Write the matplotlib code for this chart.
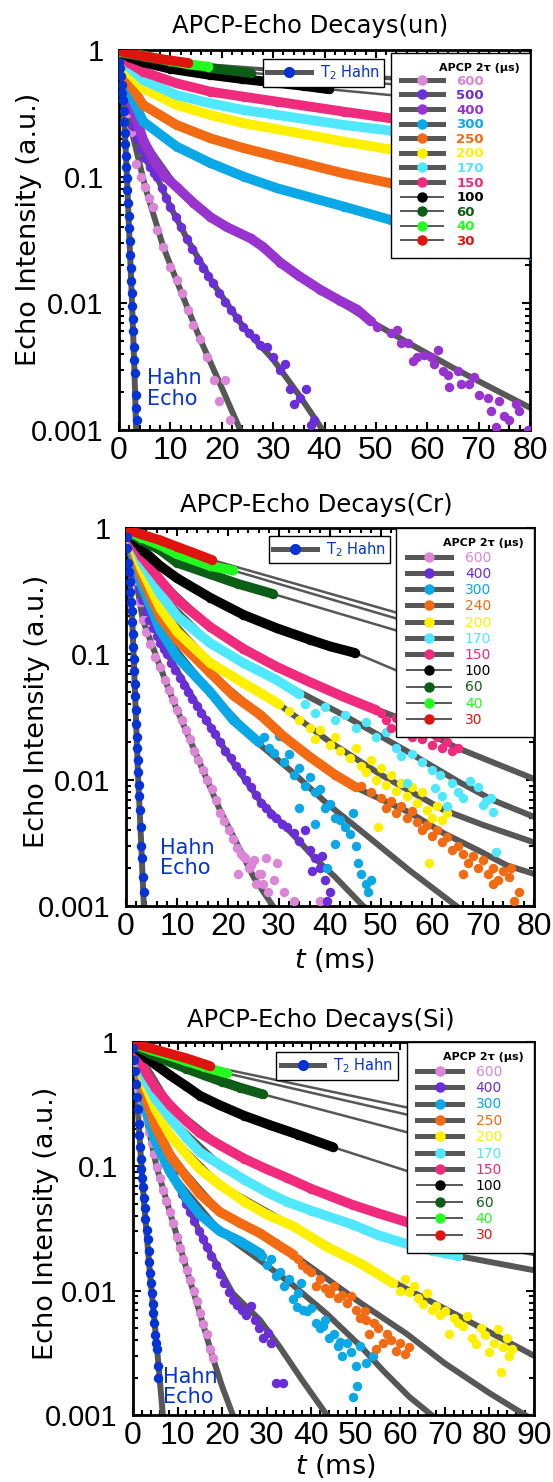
import matplotlib.pyplot as plt
from matplotlib.lines import Line2D
from matplotlib.ticker import LogLocator, MultipleLocator, NullFormatter

plt.rcParams["font.family"] = "DejaVu Sans"
plt.rcParams["mathtext.fontset"] = "dejavusans"

GREY = "#575757"
HAHN = "#0533D6"

labels_un = ["600", "500", "400", "300", "250", "200", "170", "150", "100", "60", "40", "30"]
colors_un = ["#DB86D6", "#6A2ED8", "#9933D0", "#0AA8E6", "#F26A12", "#FFF000",
             "#50E8FF", "#F02A7C", "#000000", "#0C5E16", "#22FF1E", "#E0140E"]
labels_cr = ["600", "400", "300", "240", "200", "170", "150", "100", "60", "40", "30"]
labels_si = ["600", "400", "300", "250", "200", "170", "150", "100", "60", "40", "30"]
colors_cs = ["#DB86D6", "#6A2ED8", "#0AA8E6", "#F26A12", "#FFF000",
             "#50E8FF", "#F02A7C", "#000000", "#0C5E16", "#22FF1E", "#E0140E"]

# ---------------- un ----------------
un_hahn = ([0.05, 0.2, 0.35, 0.5, 0.65, 0.8, 0.95, 1.05, 1.15, 1.25, 1.35, 1.45, 1.55, 1.65, 1.75, 1.85,
            1.95, 2.05, 2.15, 2.25, 2.35, 2.45, 2.55, 2.65, 2.75, 2.9, 3.0, 3.1, 3.25, 3.4, 3.5],
           [0.80, 0.72, 0.62, 0.53, 0.46, 0.40, 0.33, 0.27, 0.22, 0.18, 0.145, 0.12, 0.098, 0.079, 0.062, 0.049,
            0.039, 0.031, 0.024, 0.019, 0.015, 0.012, 0.0095, 0.0075, 0.0060, 0.0045, 0.0036, 0.0028, 0.0019,
            0.0015, 0.0012])
un_hahn_fit = ([0, 0.5, 1.0, 1.5, 2.0, 2.5, 3.0, 3.3, 3.6],
               [1.0, 0.53, 0.30, 0.11, 0.035, 0.011, 0.0030, 0.0011, 0.0005])
un_600 = ([0.5, 1.2, 1.8, 2.5, 3.4, 4.2, 5.1, 5.9, 6.7, 7.4, 8.6, 10, 11.3, 12.2, 13.5, 14.5, 15.8, 17.1,
           18.5, 19.4, 20.7, 21.7],
          [0.75, 0.45, 0.32, 0.227, 0.127, 0.10, 0.083, 0.068, 0.058, 0.038, 0.028, 0.0195, 0.0153, 0.012,
           0.0089, 0.0068, 0.0052, 0.0038, 0.0025, 0.0017, 0.0025, 0.0012])
un_600_fit = ([0, 1, 2.5, 5.1, 8.6, 12.2, 15.8, 19.7, 23.6, 25],
              [1.0, 0.50, 0.227, 0.083, 0.028, 0.012, 0.0052, 0.0023, 0.001, 0.0007])
un_500 = ([0.5, 1, 1.5, 2, 2.7, 3.5, 4.3, 5.1, 6, 6.8, 7.4, 8.3, 9.2, 10, 11, 12, 13.3, 14.3, 15.3, 16.3,
           17.3, 18.3, 19.5, 20.6, 21.8, 23, 24.2, 25.3, 26.5, 27.5, 28.9, 30, 31.4, 32.4, 33.2, 34, 35.2,
           36.4, 37.3, 37.9],
          [0.70, 0.55, 0.44, 0.34, 0.25, 0.20, 0.165, 0.14, 0.12, 0.107, 0.099, 0.082, 0.068, 0.058, 0.048,
           0.040, 0.032, 0.027, 0.022, 0.019, 0.0165, 0.0144, 0.012, 0.0103, 0.0089, 0.0076, 0.0065, 0.0058,
           0.0053, 0.0047, 0.0045, 0.0038, 0.0030, 0.0033, 0.0021, 0.0016, 0.0018, 0.0021, 0.0011, 0.0012])
un_500_fit = ([0, 1, 2.7, 5, 7.4, 10, 13.3, 18.3, 24.2, 30, 35, 40, 42],
              [1.0, 0.55, 0.25, 0.14, 0.099, 0.058, 0.032, 0.0144, 0.0065, 0.0036, 0.0019, 0.00095, 0.0007])
un_400 = ([0, 1, 2, 2.8, 4.7, 7, 9, 11.2, 14.5, 17.8, 21, 25.6, 28, 31.4, 35, 39.2, 43, 46.4, 49],
          [0.95, 0.62, 0.43, 0.34, 0.195, 0.13, 0.10, 0.083, 0.062, 0.048, 0.040, 0.0326, 0.028, 0.021,
           0.0165, 0.0128, 0.0105, 0.0089, 0.0072])
un_400_fit = ([0, 2.8, 4.7, 11.2, 17.8, 25.6, 31.4, 39.2, 49, 57, 65, 73, 80],
              [1.0, 0.34, 0.195, 0.083, 0.048, 0.0326, 0.021, 0.0128, 0.0072, 0.0047, 0.0031, 0.0021, 0.0015])
un_400_sc = ([50.3, 52.9, 54.2, 54.8, 56.2, 57.2, 58.1, 59.3, 60.7, 61.3, 62, 63, 64, 64.2, 66, 66.5, 68.1,
              69.1, 70.1, 71.8, 72.4, 73.4, 74, 75, 76, 77.3, 77.9, 79.6],
             [0.0065, 0.0058, 0.0062, 0.0049, 0.0049, 0.0035, 0.0038, 0.0039, 0.0038, 0.0033, 0.0043, 0.0029,
              0.0027, 0.0022, 0.0029, 0.0023, 0.0023, 0.0026, 0.0019, 0.0018, 0.0014, 0.00105, 0.0017, 0.0013,
              0.0012, 0.0016, 0.0014, 0.0010])
un_t = [0, 1, 2, 4.7, 11.2, 17.8, 24.3, 30.8, 43.8, 52.9, 65, 80]
un_300 = (un_t, [0.92, 0.64, 0.47, 0.272, 0.173, 0.128, 0.100, 0.081, 0.058, 0.0455, 0.034, 0.024])
un_250 = (un_t, [0.93, 0.70, 0.55, 0.368, 0.256, 0.201, 0.168, 0.144, 0.106, 0.0887, 0.070, 0.053])
un_200 = (un_t, [0.94, 0.77, 0.66, 0.499, 0.368, 0.307, 0.264, 0.237, 0.189, 0.164, 0.140, 0.117])
un_170 = (un_t, [0.95, 0.82, 0.73, 0.58, 0.441, 0.379, 0.336, 0.307, 0.256, 0.231, 0.200, 0.170])
un_150 = (un_t, [0.96, 0.86, 0.79, 0.674, 0.546, 0.469, 0.428, 0.391, 0.326, 0.289, 0.250, 0.210])
un_100 = ([0, 2, 4.7, 10, 17.8, 24, 30.8, 36, 40.8],
          [0.97, 0.88, 0.80, 0.71, 0.635, 0.59, 0.55, 0.52, 0.49])
un_100_fit = ([0, 10, 20, 30.8, 40.8, 53, 80], [0.97, 0.71, 0.62, 0.55, 0.49, 0.44, 0.37])
un_60 = ([0, 5, 10, 17.8, 25.6], [0.96, 0.88, 0.81, 0.72, 0.66])
un_60_fit = ([0, 10, 17.8, 25.6, 50, 80], [0.96, 0.81, 0.72, 0.66, 0.55, 0.44])
un_40 = ([0, 5, 10, 13.5, 17.4], [0.97, 0.90, 0.82, 0.77, 0.74])
un_40_fit = ([0, 10, 17.4, 27, 50, 80], [0.97, 0.82, 0.74, 0.70, 0.60, 0.49])
un_30 = ([0, 4, 8, 13.5], [0.98, 0.91, 0.85, 0.79])
un_30_fit = ([0, 8, 13.5, 27, 50, 80], [0.98, 0.85, 0.79, 0.72, 0.62, 0.52])

# ---------------- Cr ----------------
cr_hahn = ([0.1, 0.25, 0.4, 0.55, 0.7, 0.85, 1.0, 1.1, 1.2, 1.3, 1.4, 1.5, 1.6, 1.7, 1.8, 1.9, 2.0, 2.1, 2.2,
            2.3, 2.4, 2.5, 2.6, 2.7, 2.85, 3.0, 3.15, 3.3, 3.45],
           [0.85, 0.70, 0.53, 0.45, 0.37, 0.31, 0.26, 0.22, 0.18, 0.145, 0.114, 0.092, 0.073, 0.058, 0.046,
            0.036, 0.028, 0.022, 0.018, 0.0145, 0.0115, 0.0092, 0.0074, 0.0058, 0.0042, 0.0030, 0.0024,
            0.0017, 0.0013])
cr_hahn_fit = ([0, 0.4, 1.2, 1.8, 2.4, 3.0, 3.5, 3.8], [1.0, 0.53, 0.20, 0.046, 0.0100, 0.0030, 0.001, 0.0005])
cr_600 = ([0.3, 0.8, 1.4, 2, 2.7, 3.3, 4, 4.8, 5.7, 6.7, 7.7, 8.5, 9.2, 10, 10.9, 11.7, 12.5, 13.4, 14.2, 15,
           15.9, 16.8, 17.6, 18.4, 19.3, 20.2, 21, 21.8, 22.6, 23.4, 24.2, 25, 26, 26.9, 27.8],
          [0.85, 0.70, 0.53, 0.38, 0.26, 0.186, 0.15, 0.12, 0.095, 0.079, 0.062, 0.052, 0.043, 0.036, 0.030,
           0.025, 0.021, 0.017, 0.0143, 0.012, 0.010, 0.0085, 0.0070, 0.0055, 0.0047, 0.0040, 0.0034, 0.0029,
           0.0026, 0.0024, 0.0020, 0.0023, 0.0018, 0.0015, 0.0013])
cr_600_sc = ([22, 23, 24.5, 25.5, 26.5, 27.5, 29, 29.6, 30.9, 33, 38],
             [0.0018, 0.0025, 0.0021, 0.0015, 0.0018, 0.0024, 0.0016, 0.0022, 0.0013, 0.0011, 0.0011])
cr_600_fit = ([0, 1.4, 3.3, 6.7, 9.2, 12.5, 15.9, 18.4, 21.8, 25, 28.8, 30],
              [1.0, 0.53, 0.186, 0.079, 0.043, 0.021, 0.010, 0.0058, 0.0031, 0.0017, 0.001, 0.0008])
cr_400 = ([0.5, 1, 1.5, 2, 2.6, 3.2, 3.9, 4.6, 5.3, 6, 6.7, 7.4, 8.1, 8.9, 9.7, 10.5, 11.3, 12.1, 13, 13.9,
           14.8, 15.7, 16.6, 17.5, 18.5, 19.5, 20.5, 21.5, 22.5, 23.5, 24.5, 25.5, 26.5, 27.5, 28.5, 29.5,
           30.5, 31.5],
          [0.75, 0.62, 0.50, 0.41, 0.33, 0.27, 0.22, 0.185, 0.16, 0.14, 0.123, 0.11, 0.10, 0.085, 0.074, 0.064,
           0.057, 0.050, 0.044, 0.039, 0.034, 0.030, 0.026, 0.023, 0.020, 0.017, 0.0150, 0.0130, 0.0115,
           0.0100, 0.0088, 0.0076, 0.0066, 0.0060, 0.0054, 0.0050, 0.0045, 0.0042])
cr_400_sc = ([33, 34, 35, 36, 36.5, 37, 38, 38.5, 39, 39.5, 40],
             [0.0038, 0.0033, 0.0040, 0.0028, 0.0019, 0.0024, 0.0020, 0.0025, 0.0016, 0.0011, 0.0013])
cr_400_fit = ([0, 3, 8, 14.5, 21, 26.3, 33, 37, 41, 46.5, 50],
              [1.0, 0.30, 0.102, 0.036, 0.0137, 0.0068, 0.0036, 0.0024, 0.0017, 0.001, 0.0008])
cr_300 = ([0, 1, 3, 6.7, 10, 16.5, 21, 26], [0.93, 0.70, 0.36, 0.155, 0.095, 0.050, 0.030, 0.020])
cr_300_sc = ([27, 28, 29, 30, 31, 32, 33, 34, 34, 35, 36, 37, 37, 38, 39, 39.5, 40, 41, 41, 42, 43, 44, 44.5,
              45, 45.5, 46, 47, 47.5, 48],
             [0.022, 0.018, 0.0165, 0.0225, 0.014, 0.016, 0.011, 0.0125, 0.0060, 0.0090, 0.0105, 0.0080, 0.0045,
              0.0085, 0.0060, 0.0020, 0.0065, 0.0050, 0.0031, 0.0048, 0.0042, 0.0037, 0.0055, 0.0030, 0.0022,
              0.0018, 0.0015, 0.0013, 0.0016])
cr_300_fit = ([0, 3, 6.7, 16.5, 26.3, 32.7, 39.4, 45.9, 55.7, 65.5, 70],
              [0.93, 0.36, 0.155, 0.050, 0.019, 0.0115, 0.0065, 0.0040, 0.0019, 0.00095, 0.0007])
cr_240 = ([0, 1, 3, 6.7, 10, 16.5, 21, 26.3, 31, 36, 41, 45],
          [0.94, 0.75, 0.42, 0.197, 0.13, 0.071, 0.047, 0.033, 0.022, 0.0153, 0.011, 0.0088])
cr_240_sc = ([46, 48, 50, 51, 52, 53, 54, 55, 56, 57, 58, 59, 60, 61, 62, 63, 64, 65, 66, 66, 67, 68, 69, 70,
              71, 72, 72, 73, 74, 75, 75.5, 76, 77],
             [0.0090, 0.0080, 0.0072, 0.0060, 0.0068, 0.0055, 0.0062, 0.0050, 0.0057, 0.0046, 0.0040, 0.0044,
              0.0036, 0.0040, 0.0032, 0.0035, 0.0028, 0.0030, 0.0026, 0.0018, 0.0022, 0.0025, 0.0020, 0.0023,
              0.0018, 0.0020, 0.0015, 0.0016, 0.0019, 0.0017, 0.0020, 0.0011, 0.0013])
cr_240_fit = ([0, 3, 6.7, 16.5, 26.3, 36, 45.9, 55.7, 62.2, 68.8, 74.7, 80],
              [0.94, 0.42, 0.197, 0.071, 0.033, 0.0153, 0.0084, 0.0055, 0.0038, 0.0028, 0.0021, 0.0018])
cr_200 = ([0, 1, 3, 6.7, 10, 16.5, 23, 29.6], [0.95, 0.80, 0.48, 0.232, 0.15, 0.085, 0.059, 0.041])
cr_200_sc = ([30, 32, 34, 36, 37, 38, 40, 41, 42, 44, 45, 46, 47, 48, 49, 49.5, 50, 51, 52, 53, 54, 55, 56, 57,
              58, 59, 59.5, 60, 61, 62, 63],
             [0.040, 0.035, 0.030, 0.026, 0.021, 0.025, 0.019, 0.022, 0.017, 0.015, 0.018, 0.013, 0.0115, 0.0145,
              0.010, 0.0042, 0.0125, 0.0092, 0.0110, 0.0082, 0.0095, 0.0075, 0.0088, 0.0066, 0.0080, 0.0058,
              0.0022, 0.0050, 0.0062, 0.0048, 0.0055])
cr_200_fit = ([0, 3, 6.7, 16.5, 29.6, 40, 50, 62.2, 70, 80],
              [0.95, 0.48, 0.232, 0.085, 0.041, 0.020, 0.011, 0.0058, 0.0044, 0.0032])
cr_170 = ([0, 1, 3, 6.7, 10, 16.5, 23, 29.6, 34],
          [0.95, 0.83, 0.55, 0.30, 0.20, 0.122, 0.085, 0.062, 0.048])
cr_170_sc = ([35, 37, 39, 41, 43, 45, 47, 49, 51, 53, 54, 55, 56, 58, 60, 60.5, 61.5, 62, 63, 64, 65, 66, 67.5,
              69, 70, 70.5, 71.5, 72, 72.5],
             [0.040, 0.034, 0.038, 0.030, 0.033, 0.026, 0.029, 0.022, 0.024, 0.018, 0.0155, 0.0095, 0.016,
              0.014, 0.012, 0.0086, 0.011, 0.0075, 0.0062, 0.0095, 0.0080, 0.0072, 0.0098, 0.0088, 0.0063,
              0.0068, 0.0072, 0.0056, 0.0027])
cr_170_fit = ([0, 3, 6.7, 16.5, 29.6, 42.5, 55, 65, 72, 80],
              [0.95, 0.55, 0.30, 0.122, 0.062, 0.033, 0.017, 0.0098, 0.0069, 0.0051])
cr_150 = ([0, 1, 3, 6.7, 10, 16.5, 23, 29.6, 36, 42.5, 49],
          [0.95, 0.85, 0.60, 0.387, 0.27, 0.164, 0.11, 0.079, 0.060, 0.046, 0.036])
cr_150_sc = ([50, 51, 52, 53, 54, 55, 56, 57, 58, 59, 60, 61, 62, 63, 64, 65],
             [0.034, 0.030, 0.026, 0.031, 0.025, 0.028, 0.022, 0.025, 0.021, 0.024, 0.019, 0.022, 0.018, 0.020,
              0.017, 0.018])
cr_150_fit = ([0, 3, 6.7, 16.5, 29.6, 42.5, 52.7, 64.9, 80],
              [0.95, 0.60, 0.387, 0.164, 0.079, 0.046, 0.032, 0.018, 0.0102])
cr_100 = ([0, 1, 3.4, 6.7, 10, 16.5, 23, 29.6, 36, 40, 44.9],
          [0.97, 0.88, 0.66, 0.50, 0.40, 0.28, 0.205, 0.16, 0.13, 0.115, 0.102])
cr_100_fit = ([0, 6.7, 16.5, 29.6, 44.9, 52.7, 80], [0.97, 0.50, 0.28, 0.16, 0.102, 0.075, 0.028])
cr_60 = ([0, 3, 6.7, 10, 16.5, 22, 28.8], [0.95, 0.80, 0.67, 0.53, 0.43, 0.36, 0.30])
cr_60_fit = ([0, 6.7, 16.5, 28.8, 52.7, 80], [0.95, 0.67, 0.43, 0.30, 0.155, 0.072])
cr_40 = ([0, 3, 6.7, 10, 16.5, 21], [0.96, 0.84, 0.73, 0.62, 0.50, 0.46])
cr_40_fit = ([0, 6.7, 16.5, 21, 52.7, 80], [0.96, 0.73, 0.50, 0.46, 0.193, 0.091])
cr_30 = ([0, 3, 6.7, 10, 13, 16.9], [0.98, 0.89, 0.80, 0.71, 0.64, 0.557])
cr_30_fit = ([0, 6.7, 16.9, 52.7, 80], [0.98, 0.80, 0.557, 0.215, 0.105])

# ---------------- Si ----------------
si_hahn = ([0.1, 0.3, 0.5, 0.7, 0.9, 1.1, 1.3, 1.45, 1.6, 1.75, 1.9, 2.05, 2.2, 2.4, 2.6, 2.8, 3.1, 3.3, 3.5,
            3.7, 3.8, 4.0, 4.2, 4.4, 4.5, 4.8, 5.0, 5.2, 5.4, 5.6, 5.7],
           [0.90, 0.72, 0.58, 0.46, 0.36, 0.29, 0.22, 0.18, 0.143, 0.115, 0.095, 0.080, 0.068, 0.056, 0.046,
            0.038, 0.031, 0.026, 0.021, 0.017, 0.0139, 0.0115, 0.0095, 0.0078, 0.0066, 0.0055, 0.0044, 0.0038,
            0.0034, 0.0025, 0.0020])
si_hahn_fit = ([0, 0.9, 2.2, 3.8, 5.4, 6.7, 7.2], [1.0, 0.36, 0.068, 0.0139, 0.0034, 0.001, 0.0007])
si_600 = ([0.3, 0.7, 1.2, 1.7, 2.3, 3.1, 3.7, 4.2, 4.8, 5.3, 6.0, 6.7, 7.4, 8.2, 9, 9.8, 10.5, 11.3, 12.1,
           12.8, 13.6, 14.3, 15, 15.8, 16.5, 17.3, 17.9],
          [0.80, 0.58, 0.41, 0.34, 0.28, 0.236, 0.19, 0.154, 0.125, 0.099, 0.080, 0.065, 0.053, 0.043, 0.035,
           0.027, 0.022, 0.018, 0.0146, 0.0122, 0.0100, 0.0082, 0.0066, 0.0054, 0.0045, 0.0034, 0.0029])
si_600_fit = ([0, 1.2, 3.1, 5.3, 9, 12.1, 15, 17.9, 20, 22.4, 24],
              [1.0, 0.41, 0.236, 0.099, 0.035, 0.0146, 0.0066, 0.0029, 0.0017, 0.001, 0.0007])
si_400 = ([0.5, 1, 1.6, 2.2, 2.9, 3.6, 4.4, 5.4, 6.3, 7.2, 8.1, 9, 10, 10.9, 11.9, 12.8, 13.8, 14.8, 15.7,
           16.6, 17.6, 18.6, 19.6, 20.5, 21.5, 22.4, 23.4, 24.4, 25.4],
          [0.78, 0.63, 0.50, 0.40, 0.32, 0.26, 0.21, 0.172, 0.144, 0.122, 0.103, 0.087, 0.071, 0.060, 0.050,
           0.043, 0.036, 0.030, 0.026, 0.0225, 0.019, 0.016, 0.0135, 0.0115, 0.0098, 0.0084, 0.0077, 0.0070,
           0.0064])
si_400_sc = ([26.4, 27.3, 28.3, 29.2, 30.3, 31, 32.1, 33.6],
             [0.0075, 0.0058, 0.0050, 0.0042, 0.0046, 0.0038, 0.0018, 0.0018])
si_400_fit = ([0, 2.2, 5.4, 10.5, 16.6, 22.4, 28.5, 33, 38, 43.5, 46],
              [1.0, 0.40, 0.172, 0.065, 0.0225, 0.0095, 0.0058, 0.0035, 0.0019, 0.001, 0.0008])
si_300 = ([0, 1, 3, 5, 8.3, 12, 15, 19.5, 24, 28.5],
          [0.92, 0.60, 0.28, 0.16, 0.090, 0.056, 0.041, 0.030, 0.025, 0.020])
si_300_sc = ([29, 30, 31, 32, 33, 34, 35, 36, 36.7, 37, 37.8, 38.2, 39, 40, 41, 42, 42.7, 43, 44, 45, 46, 46.4,
              47, 48, 49, 49.4, 50, 50.2, 50.9, 52.4, 53.9],
             [0.019, 0.016, 0.018, 0.013, 0.014, 0.011, 0.0125, 0.0085, 0.0074, 0.0095, 0.0115, 0.0070, 0.0068,
              0.0072, 0.0055, 0.0050, 0.0052, 0.0058, 0.0042, 0.0045, 0.0036, 0.0039, 0.0030, 0.0038, 0.0032,
              0.0014, 0.0025, 0.0017, 0.0036, 0.0026, 0.0030])
si_300_fit = ([0, 3, 8.3, 19.5, 28.5, 36, 43.5, 51, 56, 62, 67, 70],
              [0.92, 0.28, 0.090, 0.030, 0.0175, 0.0110, 0.0065, 0.0036, 0.0023, 0.0014, 0.001, 0.0008])
si_250 = ([0, 1, 3, 5, 8.3, 12, 15, 19.5, 24, 28.5, 32, 36],
          [0.93, 0.65, 0.34, 0.21, 0.123, 0.082, 0.060, 0.043, 0.035, 0.029, 0.024, 0.0195])
si_250_sc = ([37, 38, 39, 40, 41, 42, 43, 44, 44.2, 45, 46, 47, 48, 49, 50, 51, 52, 52.4, 53, 54, 54.6, 55, 56,
              57, 58, 59, 60, 61, 62],
             [0.018, 0.016, 0.0150, 0.0140, 0.0110, 0.0125, 0.0105, 0.0095, 0.0096, 0.011, 0.0088, 0.0092,
              0.0080, 0.0090, 0.0070, 0.0060, 0.0068, 0.0058, 0.0045, 0.0055, 0.0034, 0.0050, 0.0038, 0.0045,
              0.0040, 0.0033, 0.0038, 0.0031, 0.0035])
si_250_fit = ([0, 3, 8.3, 19.5, 28.5, 36, 43.5, 51, 61.4, 70, 80, 88, 90],
              [0.93, 0.34, 0.123, 0.043, 0.029, 0.0195, 0.0125, 0.0080, 0.0045, 0.0026, 0.0015, 0.001, 0.0009])
si_200 = ([0, 1, 3, 5, 8.3, 12, 15, 19.5, 25, 30, 36, 43.5, 51, 58.3],
          [0.94, 0.72, 0.43, 0.29, 0.179, 0.125, 0.095, 0.071, 0.052, 0.041, 0.033, 0.0225, 0.0166, 0.0115])
si_200_sc = ([60, 61, 62, 63, 64, 65, 66, 67, 68, 69, 70, 71, 72, 73, 74, 75, 76, 77, 78, 79, 80, 81, 82, 82.5,
              83, 84, 84.5, 85],
             [0.010, 0.0125, 0.0098, 0.0110, 0.0088, 0.0078, 0.0095, 0.0070, 0.0075, 0.0064, 0.0068, 0.0045,
              0.0060, 0.0055, 0.0052, 0.0062, 0.0042, 0.0037, 0.0050, 0.0044, 0.0032, 0.0038, 0.0049, 0.0022,
              0.0035, 0.0042, 0.0030, 0.0034])
si_200_fit = ([0, 3, 8.3, 19.5, 36, 51, 58.3, 66, 73.3, 80.7, 90],
              [0.94, 0.43, 0.179, 0.071, 0.033, 0.0166, 0.0118, 0.0085, 0.0062, 0.0045, 0.0030])
si_170 = ([0, 1, 3, 5, 8.3, 12, 15, 19.5, 25, 30, 34.5, 40, 49.3, 55, 61, 67, 73],
          [0.95, 0.76, 0.48, 0.35, 0.245, 0.17, 0.13, 0.103, 0.078, 0.062, 0.052, 0.044, 0.034, 0.028, 0.024,
           0.021, 0.019])
si_170_fit = ([0, 8.3, 19.5, 34.5, 49.3, 61, 73, 90], [0.95, 0.245, 0.103, 0.052, 0.034, 0.024, 0.019, 0.0146])
si_150 = ([0, 1, 3, 5, 8.3, 12, 15, 19.5, 25, 30, 34.5, 40, 49.3, 55, 61, 67, 72],
          [0.96, 0.80, 0.56, 0.43, 0.31, 0.23, 0.185, 0.148, 0.115, 0.095, 0.081, 0.066, 0.049, 0.042, 0.036,
           0.031, 0.027])
si_150_fit = ([0, 8.3, 19.5, 34.5, 49.3, 61, 72, 90], [0.96, 0.31, 0.148, 0.081, 0.049, 0.036, 0.027, 0.020])
si_100 = ([0, 1, 3, 5, 8.3, 12, 15, 19.5, 25, 30.7, 37, 44.8],
          [0.97, 0.88, 0.75, 0.66, 0.54, 0.44, 0.37, 0.31, 0.255, 0.215, 0.18, 0.143])
si_100_fit = ([0, 8.3, 19.5, 30.7, 44.8, 61, 90], [0.97, 0.54, 0.31, 0.215, 0.143, 0.093, 0.045])
si_60 = ([0, 4, 8.3, 12, 16, 20, 24, 29.1], [0.95, 0.80, 0.69, 0.61, 0.54, 0.48, 0.43, 0.38])
si_60_fit = ([0, 8.3, 19.5, 29.1, 61, 90], [0.95, 0.68, 0.48, 0.38, 0.19, 0.10])
si_40 = ([0, 4, 8, 12, 16, 21], [0.97, 0.86, 0.78, 0.70, 0.63, 0.56])
si_40_fit = ([0, 8, 21, 61, 90], [0.97, 0.78, 0.56, 0.263, 0.155])
si_30 = ([0, 4, 8, 12, 17.3], [0.98, 0.89, 0.81, 0.74, 0.64])
si_30_fit = ([0, 8, 17.3, 61, 90], [0.98, 0.81, 0.64, 0.30, 0.18])

# series: data, fit, scattered tail, drawn as "dots" or dense "band"
series_un = [(un_600, un_600_fit, None, "dots"), (un_500, un_500_fit, None, "dots"),
             (un_400, un_400_fit, un_400_sc, "band"), (un_300, un_300, None, "band"),
             (un_250, un_250, None, "band"), (un_200, un_200, None, "band"),
             (un_170, un_170, None, "band"), (un_150, un_150, None, "band"),
             (un_100, un_100_fit, None, "band"), (un_60, un_60_fit, None, "band"),
             (un_40, un_40_fit, None, "band"), (un_30, un_30_fit, None, "band")]
series_cr = [(cr_600, cr_600_fit, cr_600_sc, "dots"), (cr_400, cr_400_fit, cr_400_sc, "dots"),
             (cr_300, cr_300_fit, cr_300_sc, "band"), (cr_240, cr_240_fit, cr_240_sc, "band"),
             (cr_200, cr_200_fit, cr_200_sc, "band"), (cr_170, cr_170_fit, cr_170_sc, "band"),
             (cr_150, cr_150_fit, cr_150_sc, "band"), (cr_100, cr_100_fit, None, "band"),
             (cr_60, cr_60_fit, None, "band"), (cr_40, cr_40_fit, None, "band"),
             (cr_30, cr_30_fit, None, "band")]
series_si = [(si_600, si_600_fit, None, "dots"), (si_400, si_400_fit, si_400_sc, "dots"),
             (si_300, si_300_fit, si_300_sc, "band"), (si_250, si_250_fit, si_250_sc, "band"),
             (si_200, si_200_fit, si_200_sc, "band"), (si_170, si_170_fit, None, "band"),
             (si_150, si_150_fit, None, "band"), (si_100, si_100_fit, None, "band"),
             (si_60, si_60_fit, None, "band"), (si_40, si_40_fit, None, "band"),
             (si_30, si_30_fit, None, "band")]

W, H = 553, 1482
fig = plt.figure(figsize=(W / 100, H / 100), dpi=100)


def px_axes(l, t, r, b):
    return fig.add_axes([l / W, 1 - b / H, (r - l) / W, (b - t) / H])


def draw_panel(ax, series, labels, colors, n_thick, hahn, hahn_fit, xmax):
    for i, (data, fit, sc, kind) in enumerate(series):
        ax.plot(fit[0], fit[1], color=GREY, lw=4.3 if i < n_thick else 1.8, zorder=2)
    for (data, fit, sc, kind), c in zip(series, colors):
        if kind == "band":
            ax.plot(data[0], data[1], color=c, lw=7, zorder=3, solid_capstyle="round",
                    solid_joinstyle="round")
        ax.plot(data[0], data[1], "o", color=c, ms=6.8, mew=0, zorder=3)
        if sc is not None:
            ax.plot(sc[0], sc[1], "o", color=c, ms=6.8, mew=0, zorder=3)
    ax.plot(hahn_fit[0], hahn_fit[1], color=GREY, lw=4.3, zorder=2)
    ax.plot(hahn[0], hahn[1], "o", color=HAHN, ms=6.8, mew=0, zorder=4)

    ax.set_yscale("log")
    ax.set_ylim(0.001, 1)
    ax.set_xlim(0, xmax)
    ax.set_yticks([1, 0.1, 0.01, 0.001], ["1", "0.1", "0.01", "0.001"])
    ax.yaxis.set_minor_locator(LogLocator(base=10, subs=range(2, 10)))
    ax.yaxis.set_minor_formatter(NullFormatter())
    ax.set_xticks(range(0, xmax + 1, 10))
    ax.xaxis.set_minor_locator(MultipleLocator(2))
    ax.tick_params(which="both", direction="in", top=True, right=True, width=1.5)
    ax.tick_params(which="major", length=6)
    ax.tick_params(which="minor", length=3.5)
    ax.tick_params(axis="x", labelsize=23, pad=4)
    ax.tick_params(axis="y", labelsize=21, pad=11)
    for lab in ax.get_xticklabels() + ax.get_yticklabels():
        lab.set_fontfamily("Liberation Sans")
    for s in ax.spines.values():
        s.set_linewidth(2)

    handles = []
    for i, c in enumerate(colors):
        handles.append(Line2D([], [], color=GREY, lw=3.6 if i < n_thick else 1.4, marker="o", ms=6.5,
                              mfc=c, mec=c))
    return handles


def add_legends(ax, handles, labels, colors, small_anchor, big_anchor, bold, spacing, fsize):
    h = Line2D([], [], color=GREY, lw=3.6, marker="o", ms=7, mfc=HAHN, mec=HAHN)
    leg1 = ax.legend([h], [r"T$_2$ Hahn"], loc="upper right", bbox_to_anchor=small_anchor,
                     fancybox=False, edgecolor="black", framealpha=1, fontsize=10.5,
                     handlelength=3.0, handletextpad=0.6, borderpad=0.3, borderaxespad=0)
    leg1.get_frame().set_linewidth(1.0)
    leg1.get_texts()[0].set_color(HAHN)
    leg1.set_zorder(10)
    ax.add_artist(leg1)
    leg2 = ax.legend(handles, labels, title="APCP 2τ (μs)", loc="upper right",
                     bbox_to_anchor=big_anchor, mode="expand", fancybox=False, edgecolor="black",
                     framealpha=1, fontsize=fsize, handlelength=3.2, handletextpad=1.0,
                     labelspacing=spacing, borderpad=0.75, borderaxespad=0, alignment="right",
                     title_fontproperties={"weight": "bold", "size": 8})
    leg2.get_frame().set_linewidth(1.0)
    leg2.set_zorder(10)
    for t, c in zip(leg2.get_texts(), colors):
        t.set_color(c)
        if bold:
            t.set_fontweight("bold")


ax1 = px_axes(119, 50, 530, 430)
hd = draw_panel(ax1, series_un, labels_un, colors_un, 8, un_hahn, un_hahn_fit, 80)
add_legends(ax1, hd, labels_un, colors_un, (0.645, 0.976), (0.662, 0, 0.338, 0.992), True, 0.12, 9.5)
ax1.text(0.068, 0.11, "Hahn\nEcho", transform=ax1.transAxes, color=HAHN, fontsize=15,
         va="center", linespacing=1.05, zorder=6)

ax2 = px_axes(126, 528, 534, 906)
hd = draw_panel(ax2, series_cr, labels_cr, colors_cs, 7, cr_hahn, cr_hahn_fit, 80)
add_legends(ax2, hd, labels_cr, colors_cs, (0.647, 0.98), (0.662, 0, 0.338, 1.0), False, 0.16, 10)
ax2.text(0.083, 0.127, "Hahn\nEcho", transform=ax2.transAxes, color=HAHN, fontsize=15,
         va="center", linespacing=1.0, zorder=6)

ax3 = px_axes(133, 1042, 534, 1415)
hd = draw_panel(ax3, series_si, labels_si, colors_cs, 7, si_hahn, si_hahn_fit, 90)
add_legends(ax3, hd, labels_si, colors_cs, (0.66, 0.973), (0.683, 0, 0.317, 1.0), False, 0.17, 10)
ax3.text(0.075, 0.075, "Hahn\nEcho", transform=ax3.transAxes, color=HAHN, fontsize=15,
         va="center", linespacing=1.0, zorder=6)

fig.text(310 / W, 1 - 33 / H, "APCP-Echo Decays(un)", fontsize=17.5, ha="center", va="baseline")
fig.text(316 / W, 1 - 512 / H, "APCP-Echo Decays(Cr)", fontsize=17.5, ha="center", va="baseline")
fig.text(321 / W, 1 - 1027 / H, "APCP-Echo Decays(Si)", fontsize=17.5, ha="center", va="baseline")

fig.text(29 / W, 1 - 229 / H, "Echo Intensity (a.u.)", fontsize=19.5, rotation=90, ha="center", va="center")
fig.text(37 / W, 1 - 711 / H, "Echo Intensity (a.u.)", fontsize=19.5, rotation=90, ha="center", va="center")
fig.text(46 / W, 1 - 1223 / H, "Echo Intensity (a.u.)", fontsize=19.5, rotation=90, ha="center", va="center")

fig.text(334 / W, 1 - 960 / H, r"$t$ (ms)", fontsize=19.5, ha="center", va="center")
fig.text(335 / W, 1 - 1466 / H, r"$t$ (ms)", fontsize=19.5, ha="center", va="center")

fig.savefig("out.png", dpi=100)
